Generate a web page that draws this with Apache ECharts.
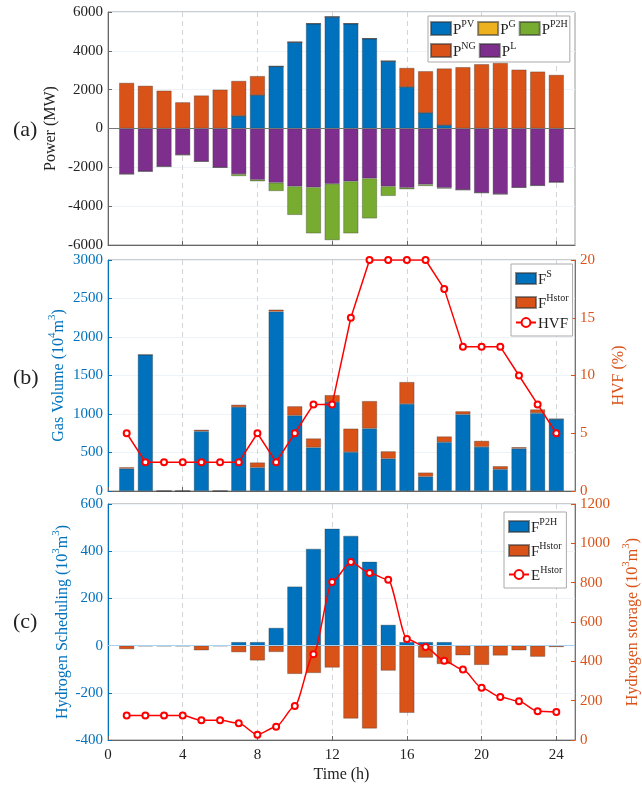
<!DOCTYPE html>
<html><head><meta charset="utf-8">
<script src="https://cdn.jsdelivr.net/npm/echarts@6/dist/echarts.min.js"></script>
<style>html,body{margin:0;padding:0;background:#fff}#c{width:642px;height:786px}</style>
</head><body><div id="c"></div><script>
// ---------------- data ----------------
const hours = [1,2,3,4,5,6,7,8,9,10,11,12,13,14,15,16,17,18,19,20,21,22,23,24];
const timeAxis = [0,1,2,3,4,5,6,7,8,9,10,11,12,13,14,15,16,17,18,19,20,21,22,23,24,25];
const xTicks = [0,4,8,12,16,20,24];
// panel (a) Power (MW)
const pPV  = [0,0,0,0,0,0,650,1720,3200,4450,5400,5750,5400,4630,3470,2140,810,170,0,0,0,0,0,0];
const pG   = [0,0,0,0,0,0,0,0,0,0,0,0,0,0,0,0,0,0,0,0,0,0,0,0];
const pNG  = [2350,2200,1950,1350,1700,2000,1800,980,0,0,0,0,0,0,0,980,2140,2920,3160,3310,3380,3030,2930,2760];
const pL   = [-2350,-2210,-1960,-1360,-1700,-2010,-2350,-2640,-2790,-2980,-3030,-2850,-2720,-2570,-2980,-3050,-2880,-3050,-3160,-3310,-3380,-3040,-2940,-2770];
const pP2H = [0,0,0,0,0,0,-100,-80,-430,-1470,-2370,-2900,-2680,-2060,-490,-80,-80,-40,0,0,0,0,0,0];
// panel (b) Gas volume (10^4 m^3), HVF (%)
const fS      = [290,1770,0,0,775,0,1090,305,2330,980,565,1155,505,812,420,1130,187,634,995,573,282,551,1012,935];
const fHstorB = [18,0,0,0,20,0,30,65,25,120,117,90,305,356,95,285,52,74,40,78,40,18,47,0];
const hvf     = [5,2.5,2.5,2.5,2.5,2.5,2.5,5,2.5,5,7.5,7.5,15,20,20,20,20,17.5,12.5,12.5,12.5,10,7.5,5];
// panel (c) Hydrogen scheduling (10^3 m^3), storage (10^3 m^3)
const fP2H    = [0,0,0,0,0,0,15,15,75,250,410,495,465,355,88,15,15,15,0,0,0,0,0,0];
const fHstorC = [-15,-2,-2,-2,-20,-1,-28,-63,-27,-120,-116,-93,-309,-351,-106,-285,-51,-78,-41,-82,-42,-20,-47,-6];
const eHstor  = [124,124,124,124,100,100,85,27,68,173,436,803,905,849,815,514,473,403,358,266,219,197,146,142];

// ---------------- style ----------------
const F = "'Liberation Serif','Times New Roman',serif";
const BLUE = '#0072BD', ORANGE = '#D95319', YELLOW = '#EDB120', GREEN = '#77AC30', PURPLE = '#7E2F8E';
const TXT = '#222';
const pairs = arr => hours.map((h, i) => [String(h), arr[i]]);
function rich(color, size) {
  return {
    t: {fontFamily: F, fontSize: size, lineHeight: size + 4, verticalAlign: 'bottom', color: color},
    s: {fontFamily: F, fontSize: Math.round(size * 0.68), lineHeight: Math.round(size * 0.68), verticalAlign: 'top', color: color}
  };
}
const legendNames = {
  PV: '{t|P}{s|PV}', G: '{t|P}{s|G}', P2H: '{t|P}{s|P2H}', NG: '{t|P}{s|NG}', L: '{t|P}{s|L}',
  FS: '{t|F}{s|S}', FHB: '{t|F}{s|Hstor}', HVF: '{t|HVF}',
  FP2H: '{t|F}{s|P2H}', FHC: '{t|F}{s|Hstor}', EH: '{t|E}{s|Hstor}'
};
const barEdge = {borderColor: 'rgba(50,50,50,0.55)', borderWidth: 0.6};
const isTick = idx => xTicks.indexOf(timeAxis[idx]) >= 0;
const rectItem = n => ({name: n, icon: 'rect'});

function xa(gi, showLabel) {
  return {
    type: 'category', gridIndex: gi, data: timeAxis.map(String), boundaryGap: false,
    axisLine: {show: true, onZero: false, lineStyle: {color: '#666'}},
    axisTick: {show: true, inside: true, length: 4, interval: isTick, lineStyle: {color: '#666'}},
    axisLabel: {show: showLabel, fontFamily: F, fontSize: 15, color: TXT, interval: isTick},
    splitLine: {show: true, interval: isTick, lineStyle: {type: [5, 4], color: '#d4d4d4'}},
    name: showLabel ? 'Time (h)' : '', nameLocation: 'middle', nameGap: 27,
    nameTextStyle: {fontFamily: F, fontSize: 16, color: TXT}
  };
}
function ya(gi, min, max, interval, color, name, gap, pos, split) {
  return {
    type: 'value', gridIndex: gi, min: min, max: max, interval: interval, position: pos,
    axisLine: {show: true, lineStyle: {color: color === TXT ? '#666' : color}},
    axisTick: {show: true, inside: true, length: 4, lineStyle: {color: color === TXT ? '#666' : color}},
    axisLabel: {fontFamily: F, fontSize: 15, color: color, margin: 5, formatter: v => String(v)},
    splitLine: {show: split, lineStyle: {color: '#eef3f8'}},
    name: name, nameLocation: 'middle', nameRotate: 90, nameGap: gap, nameMoveOverlap: false,
    nameTextStyle: {rich: rich(color, 16)}
  };
}
const legendBase = {
  backgroundColor: '#fff', borderColor: '#aaa', borderWidth: 1,
  formatter: n => legendNames[n], textStyle: {rich: rich(TXT, 15), padding: [0, 0, 0, -3]}
};
const gridBase = {left: 108, right: 67, show: true, borderColor: '#999', borderWidth: 1, containLabel: false, outerBoundsMode: 'none'};

const chart = echarts.init(document.getElementById('c'), null, {renderer: 'canvas'});
const option = {
  animation: false,
  backgroundColor: '#fff',
  title: [
    {text: '(a)', left: 8, top: 114, textStyle: {fontFamily: F, fontSize: 22, fontWeight: 'normal', color: TXT}},
    {text: '(b)', left: 8, top: 362, textStyle: {fontFamily: F, fontSize: 22, fontWeight: 'normal', color: TXT}},
    {text: '(c)', left: 8, top: 606, textStyle: {fontFamily: F, fontSize: 22, fontWeight: 'normal', color: TXT}}
  ],
  grid: [
    Object.assign({}, gridBase, {top: 12, height: 233}),
    Object.assign({}, gridBase, {top: 260, height: 231}),
    Object.assign({}, gridBase, {top: 504, height: 236})
  ],
  legend: [
    Object.assign({}, legendBase, {data: ['PV', 'G', 'P2H', 'NG', 'L'].map(rectItem), left: 428, top: 16, width: 140, orient: 'horizontal',
      itemWidth: 20, itemHeight: 13, itemGap: 3, padding: [3, 2, 2, 2]}),
    Object.assign({}, legendBase, {data: [rectItem('FS'), rectItem('FHB'), 'HVF'], left: 511, top: 264, orient: 'vertical',
      itemWidth: 20, itemHeight: 11, itemGap: 5, padding: [5, 4, 4, 4]}),
    Object.assign({}, legendBase, {data: [rectItem('FP2H'), rectItem('FHC'), 'EH'], left: 504, top: 512, orient: 'vertical',
      itemWidth: 20, itemHeight: 11, itemGap: 5, padding: [5, 4, 4, 4]})
  ],
  xAxis: [xa(0, false), xa(1, false), xa(2, true)],
  yAxis: [
    ya(0, -6000, 6000, 2000, TXT, '{t|Power (MW)}', 49, 'left', true),
    ya(1, 0, 3000, 500, BLUE, '{t|Gas Volume (10}{s|4}{t|m}{s|3}{t|)}', 41, 'left', true),
    ya(1, 0, 20, 5, ORANGE, '{t|HVF (%)}', 32, 'right', false),
    ya(2, -400, 600, 200, BLUE, '{t|Hydrogen Scheduling (10}{s|3}{t|m}{s|3}{t|)}', 37, 'left', true),
    ya(2, 0, 1200, 200, ORANGE, '{t|Hydrogen storage (10}{s|3}{t|m}{s|3}{t|)}', 46, 'right', false)
  ],
  series: [
    // (a)
    {name: 'PV', type: 'bar', xAxisIndex: 0, yAxisIndex: 0, stack: 'a', barWidth: 15, data: pairs(pPV), itemStyle: Object.assign({color: BLUE}, barEdge)},
    {name: 'G', type: 'bar', xAxisIndex: 0, yAxisIndex: 0, stack: 'a', barWidth: 15, data: pairs(pG), itemStyle: Object.assign({color: YELLOW}, barEdge)},
    {name: 'NG', type: 'bar', xAxisIndex: 0, yAxisIndex: 0, stack: 'a', barWidth: 15, data: pairs(pNG), itemStyle: Object.assign({color: ORANGE}, barEdge)},
    {name: 'L', type: 'bar', xAxisIndex: 0, yAxisIndex: 0, stack: 'a', barWidth: 15, data: pairs(pL), itemStyle: Object.assign({color: PURPLE}, barEdge),
      markLine: {silent: true, symbol: 'none', label: {show: false}, lineStyle: {color: '#777', width: 1, type: 'solid'}, data: [{yAxis: 0}]}},
    {name: 'P2H', type: 'bar', xAxisIndex: 0, yAxisIndex: 0, stack: 'a', barWidth: 15, data: pairs(pP2H), itemStyle: Object.assign({color: GREEN}, barEdge)},
    // (b)
    {name: 'FS', type: 'bar', xAxisIndex: 1, yAxisIndex: 1, stack: 'b', barWidth: 15, data: pairs(fS), itemStyle: Object.assign({color: BLUE}, barEdge)},
    {name: 'FHB', type: 'bar', xAxisIndex: 1, yAxisIndex: 1, stack: 'b', barWidth: 15, data: pairs(fHstorB), itemStyle: Object.assign({color: ORANGE}, barEdge)},
    {name: 'HVF', type: 'line', xAxisIndex: 1, yAxisIndex: 2, data: pairs(hvf), symbol: 'emptyCircle', symbolSize: 6,
      lineStyle: {color: '#FF0000', width: 1.5}, itemStyle: {color: '#FF0000', borderWidth: 1.5}, z: 5},
    // (c)
    {name: 'FP2H', type: 'bar', xAxisIndex: 2, yAxisIndex: 3, stack: 'c', barWidth: 15, data: pairs(fP2H), itemStyle: Object.assign({color: BLUE}, barEdge),
      markLine: {silent: true, symbol: 'none', label: {show: false}, lineStyle: {color: '#a9d2f0', width: 1, type: 'solid'}, data: [{yAxis: 0}]}},
    {name: 'FHC', type: 'bar', xAxisIndex: 2, yAxisIndex: 3, stack: 'c', barWidth: 15, data: pairs(fHstorC), itemStyle: Object.assign({color: ORANGE}, barEdge)},
    {name: 'EH', type: 'line', xAxisIndex: 2, yAxisIndex: 4, data: pairs(eHstor), symbol: 'emptyCircle', symbolSize: 6,
      smooth: 0.25, smoothMonotone: 'x',
      lineStyle: {color: '#FF0000', width: 1.5}, itemStyle: {color: '#FF0000', borderWidth: 1.5}, z: 5}
  ]
};
chart.setOption(option);
</script></body></html>
